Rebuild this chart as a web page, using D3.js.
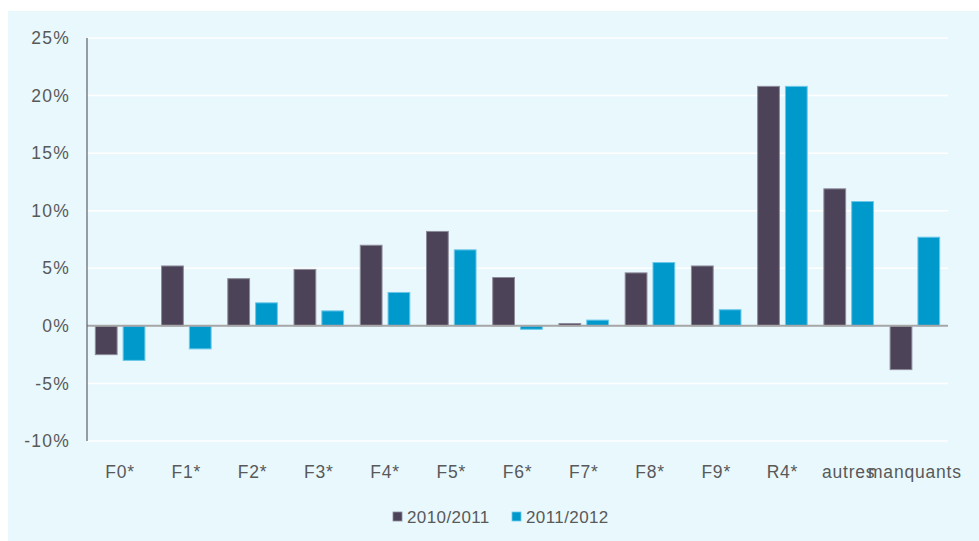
<!DOCTYPE html>
<html><head><meta charset="utf-8">
<script src="https://cdn.jsdelivr.net/npm/d3@7"></script>
<style>
body{margin:0;background:#fff;}
svg{display:block;}
text{font-family:"Liberation Sans",Arial,sans-serif;fill:#595959;}
</style></head>
<body>
<svg id="chart" width="979" height="541"></svg>
<script>
const categories = ["F0*","F1*","F2*","F3*","F4*","F5*","F6*","F7*","F8*","F9*","R4*","autres","manquants"];
const seriesNames = ["2010/2011","2011/2012"];
const values2010 = [-2.5, 5.2, 4.1, 4.9, 7.0, 8.2, 4.2, 0.2, 4.6, 5.2, 20.8, 11.9, -3.8];
const values2011 = [-3.0, -2.0, 2.0, 1.3, 2.9, 6.6, -0.3, 0.5, 5.5, 1.4, 20.8, 10.8, 7.7];
const yTicks = [-10, -5, 0, 5, 10, 15, 20, 25];
const colors = ["#4d4358", "#0099cc"];
const strokes = ["#8d8a9a", "#6cc8ea"];

(function(){
const svg = d3.select("#chart");
svg.append("rect").attr("x",8).attr("y",11).attr("width",971).attr("height",530).attr("fill","#e8f8fd");

const pLeft = 87, pRight = 948, pTop = 38, pBottom = 441;
const x0 = d3.scaleBand().domain(categories).range([pLeft, pRight]).padding(0);
const x1 = d3.scaleBand().domain(seriesNames).range([0, x0.bandwidth()]).paddingInner(0.217).paddingOuter(0.30);
const y = d3.scaleLinear().domain([-10, 25]).range([pBottom, pTop]);

// gridlines
svg.append("g").selectAll("line").data(yTicks.filter(d=>d!==0)).join("line")
  .attr("x1", pLeft).attr("x2", pRight).attr("y1", d=>y(d)).attr("y2", d=>y(d))
  .attr("stroke","#ffffff").attr("stroke-width",1.5);

// y axis labels
const yAxis = d3.axisLeft(y).tickValues(yTicks).tickFormat(d=>d+"%").tickSize(0).tickPadding(17);
const gy = svg.append("g").attr("transform",`translate(${pLeft},0)`).call(yAxis);
gy.select(".domain").remove();
gy.selectAll("text").attr("font-size","17.5px").attr("letter-spacing","1.2px")
  .attr("font-family",'"Liberation Sans",Arial,sans-serif').attr("fill","#595959");

// bars
const series = [values2010, values2011];
series.forEach((vals, si) => {
  svg.append("g").selectAll("rect").data(categories).join("rect")
    .attr("x", (c)=> x0(c) + x1(seriesNames[si]))
    .attr("width", x1.bandwidth())
    .attr("y", (c,i)=> y(Math.max(0, vals[i])))
    .attr("height", (c,i)=> Math.abs(y(vals[i]) - y(0)))
    .attr("fill", colors[si])
    .attr("stroke", strokes[si]).attr("stroke-width",1);
});

// zero line
svg.append("line").attr("x1",pLeft).attr("x2",pRight).attr("y1",y(0)).attr("y2",y(0))
  .attr("stroke","#a6a6a6").attr("stroke-width",2);
// y axis line
svg.append("line").attr("x1",pLeft).attr("x2",pLeft).attr("y1",pTop).attr("y2",pBottom)
  .attr("stroke","#5f5f6a").attr("stroke-width",1.2);

// x axis labels
const xAxis = d3.axisBottom(x0).tickSize(0).tickPadding(0);
const gx = svg.append("g").attr("transform",`translate(0,${472})`).call(xAxis);
gx.select(".domain").remove();
gx.selectAll("text").attr("dy","0.35em").attr("font-size","17.5px").attr("letter-spacing","0.8px")
  .attr("font-family",'"Liberation Sans",Arial,sans-serif').attr("fill","#595959");

// legend
const legendItems = [{name:seriesNames[0], x:393}, {name:seriesNames[1], x:512}];
const lg = svg.append("g");
legendItems.forEach((it, i) => {
  lg.append("rect").attr("x", it.x).attr("y", 512).attr("width",9).attr("height",9)
    .attr("fill", colors[i]).attr("stroke", strokes[i]).attr("stroke-width",0.8);
  lg.append("text").attr("x", it.x + 14).attr("y", 517).attr("dy","0.35em")
    .attr("font-size","17px").attr("letter-spacing","0.4px").text(it.name);
});
})();
</script>
</body></html>
